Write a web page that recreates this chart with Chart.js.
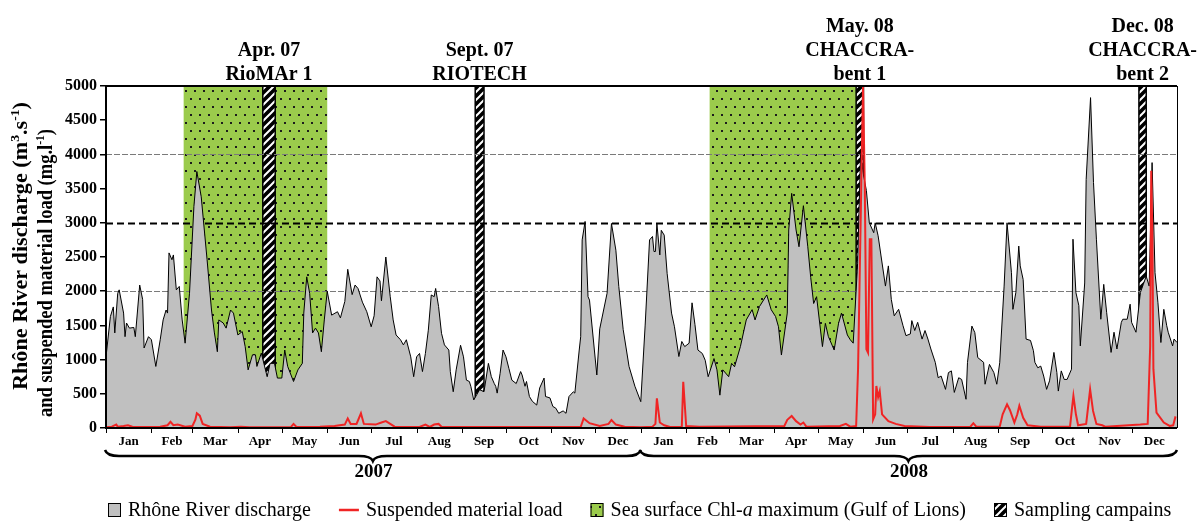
<!DOCTYPE html>
<html>
<head>
<meta charset="utf-8">
<script src="https://cdn.jsdelivr.net/npm/chart.js"></script>
<style>
  html, body { margin: 0; padding: 0; background: #fff; }
</style>
</head>
<body>
<canvas id="chart" width="1201" height="522"></canvas>
<script>
/* Rhône discharge 2007-2008 (day 0 = 1 Jan 2007) */

const dischargeDays = [
  0, 3, 5, 6, 8, 9, 12, 13, 14, 16, 19, 20, 23, 25, 26, 29, 31, 34, 37, 39, 41, 42, 43, 45, 46, 48, 50, 52, 54, 57,
  60, 62, 65, 69, 72, 74, 76, 77, 80, 82, 85, 87, 90, 93, 95, 97, 100, 102, 103, 106, 110, 112, 115, 117, 120, 122, 124, 128, 131, 134,
  135, 137, 139, 141, 143, 145, 147, 149, 151, 154, 158, 160, 163, 165, 168, 170, 172, 175, 178, 181, 183, 185, 187, 188, 191, 194, 196, 198, 201, 203,
  205, 208, 210, 212, 214, 216, 218, 220, 222, 224, 225, 227, 229, 231, 234, 235, 237, 239, 242, 244, 246, 248, 249, 251, 255, 258, 261, 263, 265, 266,
  267, 269, 271, 273, 275, 277, 280, 283, 284, 286, 287, 289, 291, 294, 296, 299, 300, 303, 305, 307, 309, 312, 314, 316, 319, 320, 323, 324, 325, 327,
  329, 330, 335, 337, 342, 345, 348, 350, 353, 357, 361, 365, 368, 371, 373, 374, 375, 376, 378, 379, 381, 383, 386, 388, 391, 393, 395, 398, 400, 402,
  404, 407, 409, 411, 415, 417, 419, 421, 425, 427, 429, 433, 437, 441, 443, 446, 451, 454, 457, 459, 461, 465, 466, 468, 471, 473, 476, 479, 481, 483,
  485, 489, 491, 493, 497, 500, 502, 506, 508, 510, 513, 515, 517, 519, 521, 524, 525, 527, 529, 532, 534, 536, 538, 541, 544, 546, 549, 550, 552, 554,
  557, 559, 561, 563, 566, 568, 570, 573, 575, 577, 579, 582, 584, 587, 588, 591, 593, 595, 599, 600, 603, 606, 608, 610, 613, 615, 618, 619, 621, 623,
  624, 626, 628, 631, 633, 634, 636, 638, 640, 642, 644, 647, 649, 650, 652, 654, 656, 659, 660, 662, 664, 665, 668, 669, 672, 674, 676, 679, 681, 683,
  686, 688, 690, 693, 694, 697, 699, 700, 703, 706, 708, 710, 712, 714, 716, 718, 720, 722, 724, 725, 728, 729, 731
];
const dischargeValues = [
  1040, 1630, 1770, 1390, 1970, 2020, 1680, 1335, 1535, 1460, 1470, 1335, 2090, 1880, 1170, 1335, 1290, 900, 1290, 1580, 1725, 1680, 2560, 2460, 2530, 2020, 2070, 1580, 1240, 1970,
  3240, 3750, 3380, 2460, 1725, 1390, 1115, 1580, 1535, 1460, 1725, 1680, 1360, 1410, 1190, 850, 1070, 1070, 900, 1095, 750, 945, 945, 730, 730, 1140, 900, 680, 850, 945,
  1680, 2210, 1970, 1390, 1460, 1390, 1115, 1580, 2000, 1650, 1700, 1610, 1850, 2320, 1950, 2090, 2040, 1840, 1700, 1480, 1640, 2210, 2150, 1860, 2500, 1920, 1580, 1360, 1290, 1215,
  1290, 1040, 750, 1040, 1090, 825, 1090, 1430, 1945, 1920, 2040, 1775, 1385, 1215, 1140, 825, 530, 850, 1210, 1040, 700, 680, 610, 410, 560, 530, 945, 750, 650, 610,
  510, 800, 1140, 1040, 870, 700, 650, 825, 775, 610, 680, 460, 390, 335, 585, 730, 460, 440, 315, 290, 215, 250, 215, 460, 530, 510, 1140, 1335, 2750, 3020,
  1920, 1870, 775, 1450, 1970, 2990, 2600, 2070, 1440, 900, 610, 385, 1505, 2750, 2800, 2580, 2580, 2990, 2530, 2890, 2820, 2260, 1680, 1480, 1045, 1265, 1190, 1240, 1830, 1510,
  1140, 1090, 990, 750, 1015, 850, 480, 850, 750, 945, 895, 1190, 1580, 1730, 1580, 1775, 1945, 1730, 1630, 1480, 1067, 1680, 2895, 3430, 2895, 2650, 3250, 2650, 2200, 1820,
  1920, 1190, 1530, 1340, 1140, 1530, 1680, 1360, 1290, 1240, 2400, 4000, 3700, 3470, 3000, 2855, 3000, 2810, 2515, 2075, 2370, 1880, 1640, 1735, 1495, 1350, 1375, 1570, 1425, 1545,
  1300, 1425, 1300, 1155, 960, 735, 760, 565, 810, 835, 520, 735, 710, 420, 960, 1490, 1395, 1030, 960, 640, 930, 810, 640, 955, 2075, 3000, 2270, 1735, 1980, 2660,
  2370, 2170, 1300, 1280, 1130, 960, 880, 905, 760, 565, 690, 1105, 810, 540, 835, 710, 710, 860, 2760, 1980, 1790, 1200, 2120, 3635, 4830, 3590, 2760, 1590, 2100, 1685,
  1105, 1400, 1155, 1545, 1590, 1590, 1810, 1545, 1400, 1980, 2100, 2220, 2075, 3880, 2270, 1830, 1250, 1735, 1495, 1400, 1200, 1300, 1250
];

const loadDays = [
  0, 4, 7, 8, 12, 15, 18, 27, 37, 42, 44, 46, 49, 54, 59, 61, 62, 64, 66, 71, 85, 92, 98, 126, 128, 130, 146, 156, 163, 165,
  167, 171, 174, 176, 184, 188, 191, 194, 197, 214, 218, 221, 224, 227, 229, 269, 324, 326, 330, 337, 343, 345, 348, 354, 365, 373, 375, 376, 378, 381,
  385, 393, 394, 396, 405, 463, 465, 468, 471, 474, 476, 478, 501, 505, 508, 512, 513.3, 515.1, 516.7, 517.9, 519, 520.1, 521.3, 522.4, 523.6, 525, 525.8, 527, 528.1, 529.7,
  534, 539, 545, 562, 590, 592, 594, 610, 612, 615, 617, 620, 622, 623.4, 626, 629, 638, 658, 659.4, 660.3, 662, 663.5, 669, 671.7, 673.7, 676, 680, 682, 706, 711,
  712.7, 713.4, 714.2, 714.9, 717, 722, 726, 728.4, 730
];
const loadValues = [
  10, 20, 50, 20, 30, 40, 20, 15, 20, 40, 90, 40, 50, 20, 30, 120, 215, 180, 60, 20, 10, 20, 10, 10, 60, 15, 20, 30, 50, 140,
  60, 60, 215, 60, 50, 80, 100, 60, 20, 15, 50, 15, 50, 60, 20, 15, 15, 140, 70, 30, 60, 117, 50, 20, 10, 20, 60, 435, 80, 40,
  15, 15, 677, 30, 20, 30, 120, 175, 100, 50, 80, 20, 30, 60, 20, 30, 860, 3050, 5000, 3540, 1150, 1100, 2760, 2760, 125, 200, 615, 450, 540, 200,
  100, 60, 30, 15, 20, 70, 20, 20, 200, 345, 260, 80, 200, 325, 150, 40, 20, 20, 300, 470, 200, 40, 60, 565, 250, 60, 40, 20, 50, 60,
  1200, 3760, 2800, 860, 225, 80, 30, 40, 170
];

const monthLabels = [
  'Jan', 'Feb', 'Mar', 'Apr', 'May', 'Jun', 'Jul', 'Aug', 'Sep', 'Oct', 'Nov', 'Dec',
  'Jan', 'Feb', 'Mar', 'Apr', 'May', 'Jun', 'Jul', 'Aug', 'Sep', 'Oct', 'Nov', 'Dec'
];
const monthLengths = [31, 28, 31, 30, 31, 30, 31, 31, 30, 31, 30, 31, 31, 29, 31, 30, 31, 30, 31, 31, 30, 31, 30, 31];
const yearLabels = ['2007', '2008'];
const yearLengths = [365, 366];

const chlPeriods = [[53, 151], [412, 512]];
const campaignPeriods = [[107, 115.5], [252, 258], [512, 517], [705, 710]];
const campaignLabels = [
  ['Apr. 07', 'RioMAr 1'],
  ['Sept. 07', 'RIOTECH'],
  ['May. 08', 'CHACCRA-', 'bent 1'],
  ['Dec. 08', 'CHACCRA-', 'bent 2']
];
const gridValues = [2000, 3000, 4000];
const yTicks = { min: 0, max: 5000, step: 500 };

const SERIF = '"Liberation Serif", "Times New Roman", serif';
const GREEN = '#9bcb4c';
const GREY = '#c0c0c0';
const RED = '#f02424';

function makeDotPattern(ctx) {
  const c = document.createElement('canvas');
  c.width = 18;
  c.height = 16;
  const g = c.getContext('2d');
  g.fillStyle = GREEN;
  g.fillRect(0, 0, 18, 16);
  g.fillStyle = '#1c1c1c';
  [[1, 2], [10, 2], [5, 10], [14, 10]].forEach(function (p) {
    g.fillRect(p[0], p[1], 2, 2);
  });
  return ctx.createPattern(c, 'repeat');
}

function makeHatchPattern(ctx) {
  const c = document.createElement('canvas');
  c.width = 8;
  c.height = 8;
  const g = c.getContext('2d');
  g.fillStyle = '#000';
  g.fillRect(0, 0, 8, 8);
  g.strokeStyle = '#fff';
  g.lineWidth = 2;
  g.beginPath();
  g.moveTo(-2, 10); g.lineTo(10, -2);
  g.moveTo(-6, 6); g.lineTo(6, -6);
  g.moveTo(2, 14); g.lineTo(14, 2);
  g.stroke();
  return ctx.createPattern(c, 'repeat');
}

// text made of parts: {t, sup, it}
function richWidth(ctx, parts, size, weight) {
  let w = 0;
  parts.forEach(function (p) {
    const s = p.sup ? size * 0.62 : size;
    ctx.font = (p.it ? 'italic ' : '') + weight + ' ' + s + 'px ' + SERIF;
    w += ctx.measureText(p.t).width;
  });
  return w;
}

function drawRich(ctx, parts, x, y, size, weight) {
  let cx = x;
  parts.forEach(function (p) {
    const s = p.sup ? size * 0.62 : size;
    ctx.font = (p.it ? 'italic ' : '') + weight + ' ' + s + 'px ' + SERIF;
    ctx.fillText(p.t, cx, p.sup ? y - size * 0.38 : y);
    cx += ctx.measureText(p.t).width;
  });
}

function drawBrace(ctx, x0, x1, yEnd, yFlat, yTip) {
  const xm = (x0 + x1) / 2;
  const q = 14;
  ctx.beginPath();
  ctx.moveTo(x0, yEnd);
  ctx.quadraticCurveTo(x0 + 2, yFlat, x0 + q, yFlat);
  ctx.lineTo(xm - q, yFlat);
  ctx.quadraticCurveTo(xm - 2, yFlat, xm, yTip);
  ctx.quadraticCurveTo(xm + 2, yFlat, xm + q, yFlat);
  ctx.lineTo(x1 - q, yFlat);
  ctx.quadraticCurveTo(x1 - 2, yFlat, x1, yEnd);
  ctx.stroke();
}

const yTitleLines = [
  { parts: [{ t: 'Rhône River discharge (m' }, { t: '3', sup: true }, { t: '.s' }, { t: '-1', sup: true }, { t: ')' }], x: 27, y: 390 },
  { parts: [{ t: 'and suspended material load (mg.l' }, { t: '-1', sup: true }, { t: ')' }], x: 52, y: 417 }
];

const legendItems = [
  { kind: 'box', parts: [{ t: 'Rhône River discharge' }] },
  { kind: 'line', parts: [{ t: 'Suspended material load' }] },
  { kind: 'green', parts: [{ t: 'Sea surface Chl-' }, { t: 'a', it: true }, { t: ' maximum (Gulf of Lions)' }] },
  { kind: 'hatch', parts: [{ t: 'Sampling campains' }] }
];

const decorPlugin = {
  id: 'decor',
  beforeDatasetsDraw(chart) {
    const { ctx, chartArea: a, scales: { x, y } } = chart;
    const dots = makeDotPattern(ctx);
    const hatch = makeHatchPattern(ctx);
    ctx.save();
    ctx.beginPath();
    ctx.rect(a.left, a.top, a.right - a.left, a.bottom - a.top);
    ctx.clip();

    chlPeriods.forEach(function (p) {
      const x0 = x.getPixelForValue(p[0]);
      const x1 = x.getPixelForValue(p[1]);
      ctx.fillStyle = dots;
      ctx.fillRect(x0, a.top, x1 - x0, a.bottom - a.top);
    });

    campaignPeriods.forEach(function (p) {
      const x0 = x.getPixelForValue(p[0]);
      const x1 = x.getPixelForValue(p[1]);
      ctx.fillStyle = hatch;
      ctx.fillRect(x0, a.top, x1 - x0, a.bottom - a.top);
      ctx.strokeStyle = '#000';
      ctx.lineWidth = 1.5;
      ctx.strokeRect(x0, a.top, x1 - x0, a.bottom - a.top);
    });

    gridValues.forEach(function (v) {
      const py = Math.round(y.getPixelForValue(v)) + 0.5;
      ctx.beginPath();
      if (v === 3000) {
        ctx.strokeStyle = '#000';
        ctx.lineWidth = 2;
        ctx.setLineDash([7, 4]);
      } else {
        ctx.strokeStyle = '#7a7a7a';
        ctx.lineWidth = 1;
        ctx.setLineDash([6, 2]);
      }
      ctx.moveTo(a.left, py);
      ctx.lineTo(a.right, py);
      ctx.stroke();
    });
    ctx.restore();
  },

  afterDraw(chart) {
    const { ctx, chartArea: a, scales: { x } } = chart;
    ctx.save();
    ctx.fillStyle = '#000';
    ctx.strokeStyle = '#000';

    // frame
    ctx.lineWidth = 2;
    ctx.beginPath();
    ctx.moveTo(a.left, a.top);
    ctx.lineTo(a.right, a.top);
    ctx.moveTo(a.left, a.top - 1);
    ctx.lineTo(a.left, a.bottom + 1);
    ctx.moveTo(a.left - 1, a.bottom);
    ctx.lineTo(a.right, a.bottom);
    ctx.stroke();
    ctx.lineWidth = 1;
    ctx.beginPath();
    ctx.moveTo(a.right + 0.5, a.top);
    ctx.lineTo(a.right + 0.5, a.bottom);
    ctx.stroke();

    // months
    ctx.font = 'bold 13px ' + SERIF;
    ctx.textAlign = 'center';
    ctx.textBaseline = 'alphabetic';
    ctx.lineWidth = 1;
    let start = 0;
    monthLabels.forEach(function (m, i) {
      const end = start + monthLengths[i];
      const px = Math.round(x.getPixelForValue(start)) + 0.5;
      ctx.beginPath();
      ctx.moveTo(px, a.bottom);
      ctx.lineTo(px, a.bottom + 5);
      ctx.stroke();
      ctx.fillText(m, x.getPixelForValue((start + end) / 2), a.bottom + 17);
      start = end;
    });

    // year braces
    let ys = 0;
    yearLabels.forEach(function (yr, i) {
      const x0 = x.getPixelForValue(ys);
      const x1 = x.getPixelForValue(ys + yearLengths[i]);
      ctx.lineWidth = 2.5;
      drawBrace(ctx, x0 - 1, x1, a.bottom + 22, a.bottom + 28, a.bottom + 33);
      ctx.font = 'bold 19px ' + SERIF;
      ctx.fillText(yr, (x0 + x1) / 2, a.bottom + 49);
      ys += yearLengths[i];
    });

    // campaign names above the plot
    ctx.font = 'bold 20px ' + SERIF;
    campaignPeriods.forEach(function (p, i) {
      const cx = x.getPixelForValue((p[0] + p[1]) / 2);
      const lines = campaignLabels[i];
      lines.forEach(function (t, j) {
        ctx.fillText(t, cx, a.top - 6 - 24 * (lines.length - 1 - j));
      });
    });

    // y axis title, two rotated lines
    ctx.textAlign = 'left';
    yTitleLines.forEach(function (line) {
      const w = richWidth(ctx, line.parts, 21, 'bold');
      ctx.save();
      ctx.translate(line.x, line.y);
      ctx.rotate(-Math.PI / 2);
      ctx.scale(288 / w, 1);
      drawRich(ctx, line.parts, 0, 0, 21, 'bold');
      ctx.restore();
    });

    // legend
    const dots = makeDotPattern(ctx);
    const hatch = makeHatchPattern(ctx);
    const ly = 510;
    let lx = a.left + 2;
    legendItems.forEach(function (item) {
      let sw = 13;
      if (item.kind === 'line') {
        sw = 20;
        ctx.strokeStyle = RED;
        ctx.lineWidth = 2.5;
        ctx.beginPath();
        ctx.moveTo(lx, ly);
        ctx.lineTo(lx + sw, ly);
        ctx.stroke();
      } else {
        ctx.fillStyle = item.kind === 'box' ? GREY : item.kind === 'green' ? dots : hatch;
        ctx.fillRect(lx, ly - 7, sw, 14);
        ctx.strokeStyle = '#000';
        ctx.lineWidth = 1;
        ctx.strokeRect(lx + 0.5, ly - 6.5, sw - 1, 13);
      }
      lx += sw + 7;
      ctx.fillStyle = '#000';
      drawRich(ctx, item.parts, lx, ly + 6, 20, 'normal');
      lx += richWidth(ctx, item.parts, 20, 'normal') + 28;
    });

    ctx.restore();
  }
};

const ctx = document.getElementById('chart').getContext('2d');

new Chart(ctx, {
  type: 'line',
  data: {
    datasets: [
      {
        label: 'Suspended material load',
        data: loadDays.map(function (d, i) { return { x: d, y: loadValues[i] }; }),
        borderColor: RED,
        borderWidth: 2,
        pointRadius: 0,
        fill: false,
        tension: 0,
        order: 0
      },
      {
        label: 'Rhône River discharge',
        data: dischargeDays.map(function (d, i) { return { x: d, y: dischargeValues[i] }; }),
        borderColor: '#000',
        borderWidth: 1,
        backgroundColor: GREY,
        fill: 'origin',
        pointRadius: 0,
        tension: 0,
        order: 1
      }
    ]
  },
  options: {
    responsive: false,
    animation: false,
    devicePixelRatio: 1,
    layout: { padding: { top: 86, right: 24, left: 0, bottom: 0 } },
    plugins: {
      legend: { display: false },
      tooltip: { enabled: false }
    },
    scales: {
      x: {
        type: 'linear',
        min: 0,
        max: 731,
        ticks: { display: false },
        grid: { display: false },
        border: { display: false },
        afterFit: function (s) { s.height = 94; }
      },
      y: {
        min: yTicks.min,
        max: yTicks.max,
        ticks: {
          stepSize: yTicks.step,
          color: '#000',
          padding: 3,
          font: { family: SERIF, size: 16, weight: 'bold' },
          callback: function (v) { return String(v); }
        },
        grid: { drawOnChartArea: false, tickLength: 6, color: '#000', lineWidth: 1.5 },
        border: { display: false },
        afterFit: function (s) { s.width = 106; }
      }
    }
  },
  plugins: [decorPlugin]
});
</script>
</body>
</html>
